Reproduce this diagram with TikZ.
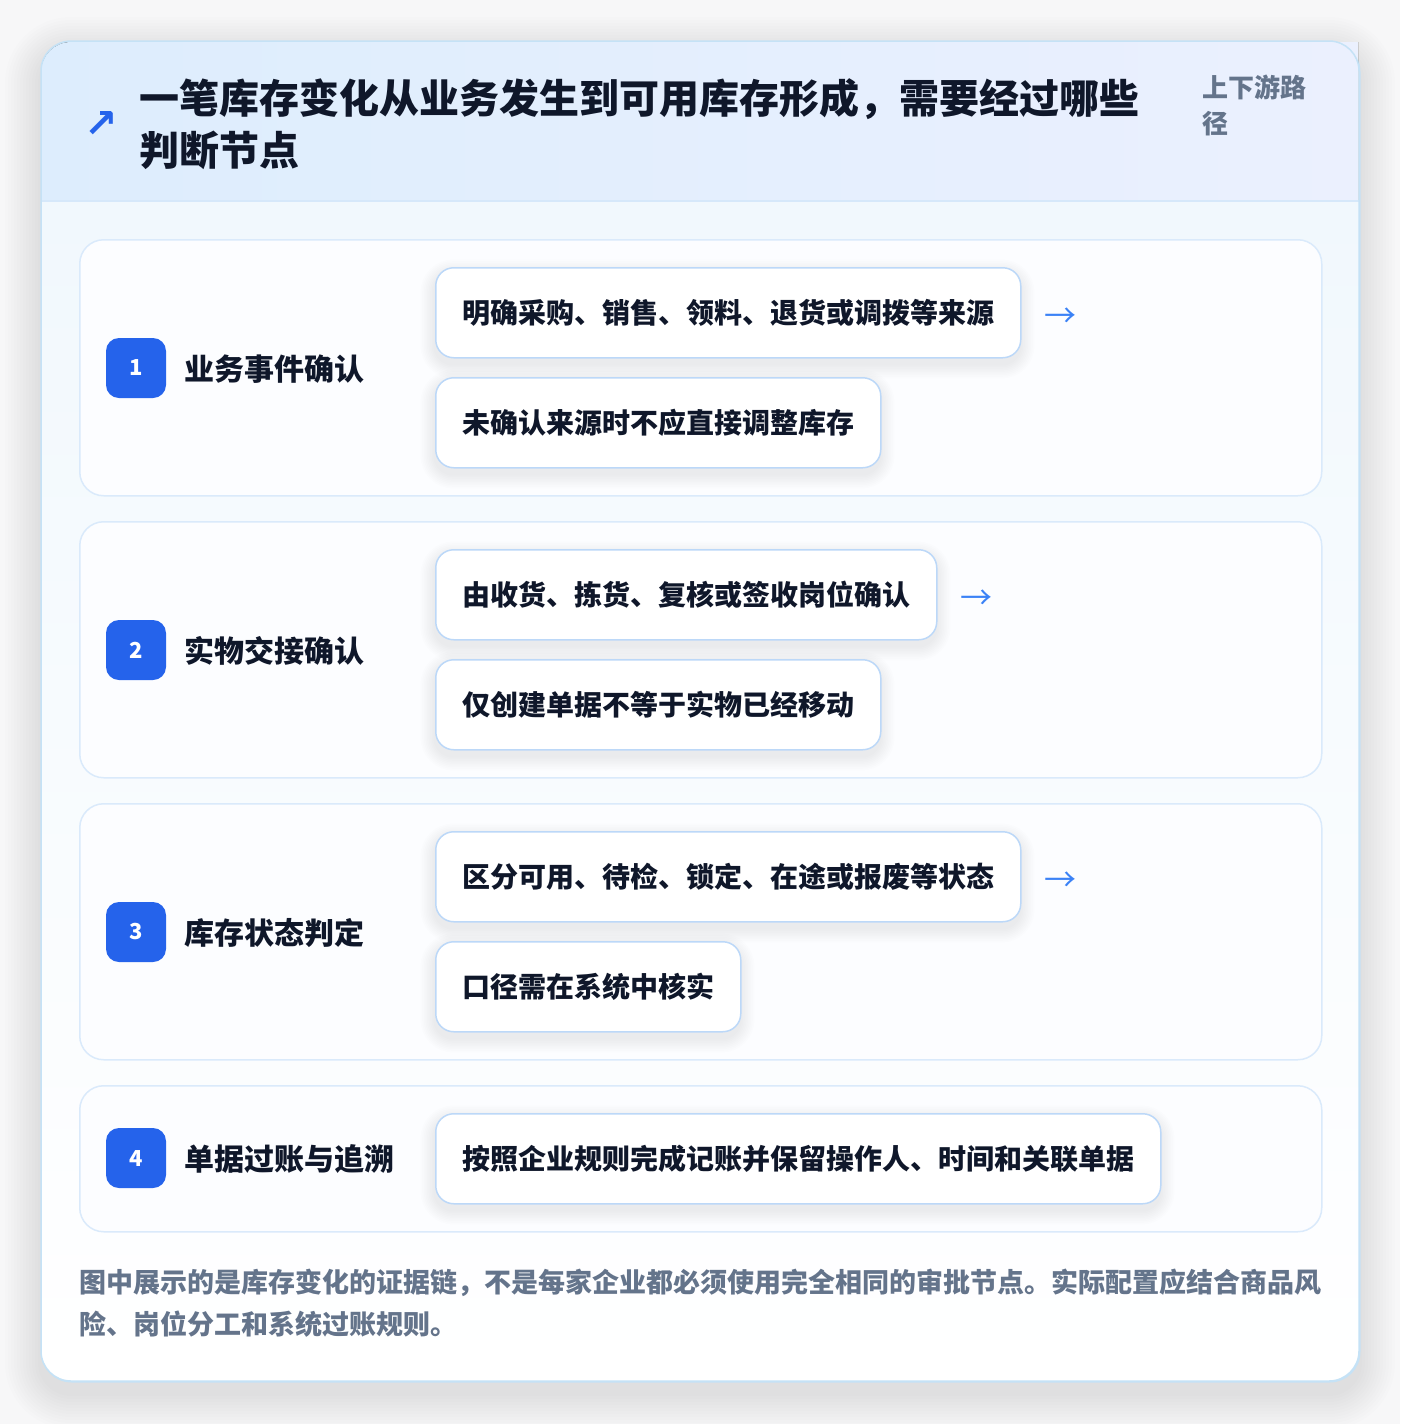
\documentclass[tikz,border=0pt]{standalone}
\usepackage{fontspec}
\setmainfont{Noto Sans CJK SC}
\newfontfamily\symfont{DejaVu Sans}
\definecolor{pagebg}{HTML}{F7F7F8}
\definecolor{cardline}{HTML}{C5E2F6}
\definecolor{hdrL}{HTML}{DDEDFD}
\definecolor{hdrR}{HTML}{EBF0FE}
\definecolor{hdrline}{HTML}{D6E8FA}
\definecolor{bodytop}{HTML}{F1F8FD}
\definecolor{secfill}{HTML}{FCFDFF}
\definecolor{secline}{HTML}{DAEAFB}
\definecolor{itemline}{HTML}{BCD8F8}
\definecolor{badge}{HTML}{2563EB}
\definecolor{ink}{HTML}{0F172A}
\definecolor{muted}{HTML}{64748B}
\definecolor{arrowc}{HTML}{3B82F6}
\newcommand\softshade[8]{% x1 y1 x2 y2 radius yoffset spread steps
  \foreach \k in {1,...,#8}{
    \pgfmathsetmacro\gr{#5+#7*\k}
    \fill[black, opacity=0.008, rounded corners=\gr pt]
      ({#1-#7*\k},{#2-#7*\k+#6}) rectangle ({#3+#7*\k},{#4+#7*\k+#6});
  }}
\tikzset{
  cardbox/.style={draw=cardline, line width=1.5pt, rounded corners=30pt, fill=white,
    minimum width=1318pt, minimum height=1340pt, anchor=north west, inner sep=0pt},
  secbox/.style={draw=secline, line width=1.5pt, rounded corners=24pt, fill=secfill,
    minimum width=1242pt, anchor=north west, inner sep=0pt},
  badgebox/.style={fill=badge, rounded corners=13pt, minimum width=60pt, minimum height=60pt,
    inner sep=0pt, text=white, font=\bfseries\fontsize{22}{22}\selectfont},
  seclabel/.style={anchor=west, inner sep=0pt, text=ink, font=\bfseries\fontsize{30}{30}\selectfont},
  itembox/.style={draw=itemline, line width=1.5pt, rounded corners=18pt, fill=white,
    minimum height=90pt, anchor=north west, inner xsep=27pt, inner ysep=0pt, align=left,
    text=ink, font=\bfseries\fontsize{28}{28}\selectfont},
  flowarrow/.style={inner sep=0pt, text=arrowc, font=\fontsize{32}{32}\selectfont},
}
\begin{document}
\begin{tikzpicture}[x=1pt,y=-1pt]
\useasboundingbox (0,0) rectangle (1400,1424);
\fill[pagebg] (0,0) rectangle (1400,1424);
% card
\softshade{41}{41}{1359}{1381}{30}{12}{3}{12}
\node[cardbox] (card) at (41,41) {};
\begin{scope}
  \clip[rounded corners=30pt] (41,41) rectangle (1359,1381);
  \shade[top color=bodytop, bottom color=white, middle color=bodytop!50!white] (41,201) rectangle (1359,1381);
\end{scope}
\fill[left color=hdrL, right color=hdrR] (41,201) {[rounded corners=30pt] -- (41,42)} -- (1358,42) -- (1358,201) -- cycle;
\draw[hdrline, line width=1.5pt] (41,201) -- (1359,201);
\draw[cardline, line width=1.5pt, rounded corners=30pt] (41,41) rectangle (1359,1381);
% header
\node[inner sep=0pt, text=badge, font=\symfont\bfseries\fontsize{40}{40}\selectfont] (icon) at (101,125) {↗};
\node[anchor=north west, inner sep=0pt, align=left, text=ink, font=\bfseries\fontsize{40}{52}\selectfont] (title) at (139,78)
  {一笔库存变化从业务发生到可用库存形成，需要经过哪些\\判断节点};
\node[anchor=north west, inner sep=0pt, align=left, text=muted, font=\bfseries\fontsize{26}{36}\selectfont] (tag) at (1202,75)
  {上下游路\\径};
% sections
\node[secbox, minimum height=256pt] (sec1) at (79,239) {};
\node[secbox, minimum height=256pt] (sec2) at (79,521) {};
\node[secbox, minimum height=256pt] (sec3) at (79,803) {};
\node[secbox, minimum height=146pt] (sec4) at (79,1085) {};
% badges and labels
\node[badgebox] (b1) at (136,368) {1};
\node[seclabel] (l1) at (184,369) {业务事件确认};
\node[badgebox] (b2) at (136,650) {2};
\node[seclabel] (l2) at (184,651) {实物交接确认};
\node[badgebox] (b3) at (136,932) {3};
\node[seclabel] (l3) at (184,933) {库存状态判定};
\node[badgebox] (b4) at (136,1158) {4};
\node[seclabel] (l4) at (184,1159) {单据过账与追溯};
% items
\softshade{435}{267}{1020}{357}{18}{7}{1.6}{9}
\node[itembox, text width=531pt] (i11) at (435,267) {明确采购、销售、领料、退货或调拨等来源};
\softshade{435}{377}{880}{467}{18}{7}{1.6}{9}
\node[itembox, text width=391pt] (i12) at (435,377) {未确认来源时不应直接调整库存};
\node[flowarrow] (a1) at (1060,318) {→};
\softshade{435}{549}{936}{639}{18}{7}{1.6}{9}
\node[itembox, text width=447pt] (i21) at (435,549) {由收货、拣货、复核或签收岗位确认};
\softshade{435}{659}{880}{749}{18}{7}{1.6}{9}
\node[itembox, text width=391pt] (i22) at (435,659) {仅创建单据不等于实物已经移动};
\node[flowarrow] (a2) at (976,600) {→};
\softshade{435}{831}{1020}{921}{18}{7}{1.6}{9}
\node[itembox, text width=531pt] (i31) at (435,831) {区分可用、待检、锁定、在途或报废等状态};
\softshade{435}{941}{740}{1031}{18}{7}{1.6}{9}
\node[itembox, text width=251pt] (i32) at (435,941) {口径需在系统中核实};
\node[flowarrow] (a3) at (1060,882) {→};
\softshade{435}{1113}{1160}{1203}{18}{7}{1.6}{9}
\node[itembox, text width=671pt] (i41) at (435,1113) {按照企业规则完成记账并保留操作人、时间和关联单据};
% footer
\node[anchor=north west, inner sep=0pt, align=left, text=muted, font=\bfseries\fontsize{27}{42}\selectfont] (note) at (79,1269)
  {图中展示的是库存变化的证据链，不是每家企业都必须使用完全相同的审批节点。实际配置应结合商品风\\险、岗位分工和系统过账规则。};
\end{tikzpicture}
\end{document}
